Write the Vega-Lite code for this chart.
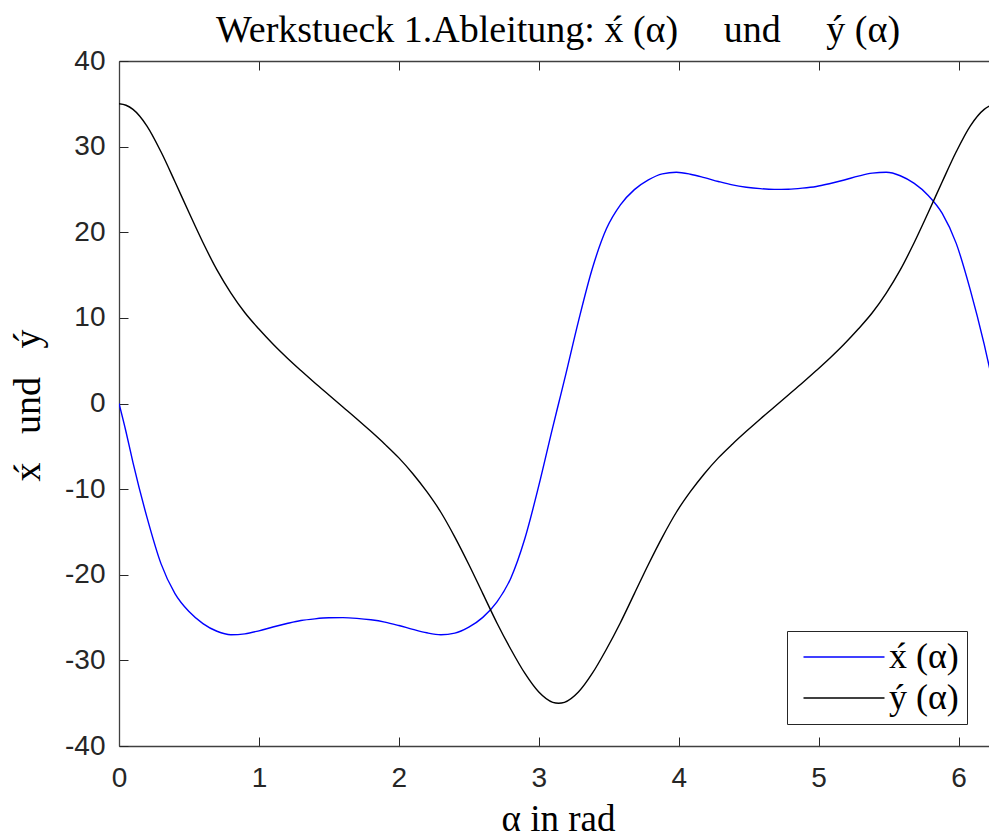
{
  "$schema": "https://vega.github.io/schema/vega-lite/v6.json",
  "autosize": {"type": "none"},
  "padding": {"left": 119, "top": 61, "right": 0, "bottom": 92},
  "width": 870,
  "height": 685,
  "background": "white",
  "config": {"view": {"stroke": null}},
  "title": {
    "text": "Werkstueck 1.Ableitung: x\u0301 (\u03b1)\u2003\u2009und\u2003\u2009y\u0301 (\u03b1)",
    "font": "Liberation Serif", "fontSize": 38, "fontWeight": "normal", "color": "#000000",
    "anchor": "middle", "baseline": "alphabetic", "offset": 15, "dx": 4, "dy": 48
  },
  "data": {"values": [
    {"a":0,"v":0,"s":"x\u0301 (\u03b1)"},{"a":0.05,"v":-3.3,"s":"x\u0301 (\u03b1)"},{"a":0.1,"v":-6.9,"s":"x\u0301 (\u03b1)"},{"a":0.2,"v":-13.3,"s":"x\u0301 (\u03b1)"},{"a":0.3,"v":-18.7,"s":"x\u0301 (\u03b1)"},{"a":0.4,"v":-22.2,"s":"x\u0301 (\u03b1)"},{"a":0.5,"v":-24.3,"s":"x\u0301 (\u03b1)"},{"a":0.6,"v":-25.7,"s":"x\u0301 (\u03b1)"},{"a":0.7,"v":-26.6,"s":"x\u0301 (\u03b1)"},{"a":0.8,"v":-27.0,"s":"x\u0301 (\u03b1)"},{"a":0.9,"v":-26.9,"s":"x\u0301 (\u03b1)"},{"a":1.0,"v":-26.55,"s":"x\u0301 (\u03b1)"},{"a":1.1,"v":-26.1,"s":"x\u0301 (\u03b1)"},{"a":1.2,"v":-25.7,"s":"x\u0301 (\u03b1)"},{"a":1.3,"v":-25.35,"s":"x\u0301 (\u03b1)"},{"a":1.4,"v":-25.15,"s":"x\u0301 (\u03b1)"},{"a":1.5,"v":-25.03,"s":"x\u0301 (\u03b1)"},{"a":1.6,"v":-25.01,"s":"x\u0301 (\u03b1)"},{"a":1.7,"v":-25.09,"s":"x\u0301 (\u03b1)"},{"a":1.8,"v":-25.26,"s":"x\u0301 (\u03b1)"},{"a":1.9,"v":-25.53,"s":"x\u0301 (\u03b1)"},{"a":2.0,"v":-25.93,"s":"x\u0301 (\u03b1)"},{"a":2.1,"v":-26.38,"s":"x\u0301 (\u03b1)"},{"a":2.2,"v":-26.78,"s":"x\u0301 (\u03b1)"},{"a":2.3,"v":-27.0,"s":"x\u0301 (\u03b1)"},{"a":2.4,"v":-26.82,"s":"x\u0301 (\u03b1)"},{"a":2.5,"v":-26.12,"s":"x\u0301 (\u03b1)"},{"a":2.6,"v":-24.98,"s":"x\u0301 (\u03b1)"},{"a":2.7,"v":-23.2,"s":"x\u0301 (\u03b1)"},{"a":2.8,"v":-20.4,"s":"x\u0301 (\u03b1)"},{"a":2.9,"v":-15.8,"s":"x\u0301 (\u03b1)"},{"a":3.0,"v":-9.6,"s":"x\u0301 (\u03b1)"},{"a":3.1,"v":-2.75,"s":"x\u0301 (\u03b1)"},{"a":3.14159,"v":0,"s":"x\u0301 (\u03b1)"},
    {"a":3.18319,"v":2.75,"s":"x\u0301 (\u03b1)"},{"a":3.28319,"v":9.6,"s":"x\u0301 (\u03b1)"},{"a":3.38319,"v":15.8,"s":"x\u0301 (\u03b1)"},{"a":3.48319,"v":20.4,"s":"x\u0301 (\u03b1)"},{"a":3.58319,"v":23.2,"s":"x\u0301 (\u03b1)"},{"a":3.68319,"v":24.98,"s":"x\u0301 (\u03b1)"},{"a":3.78319,"v":26.12,"s":"x\u0301 (\u03b1)"},{"a":3.88319,"v":26.82,"s":"x\u0301 (\u03b1)"},{"a":3.98319,"v":27.0,"s":"x\u0301 (\u03b1)"},{"a":4.08319,"v":26.78,"s":"x\u0301 (\u03b1)"},{"a":4.18319,"v":26.38,"s":"x\u0301 (\u03b1)"},{"a":4.28319,"v":25.93,"s":"x\u0301 (\u03b1)"},{"a":4.38319,"v":25.53,"s":"x\u0301 (\u03b1)"},{"a":4.48319,"v":25.26,"s":"x\u0301 (\u03b1)"},{"a":4.58319,"v":25.09,"s":"x\u0301 (\u03b1)"},{"a":4.68319,"v":25.01,"s":"x\u0301 (\u03b1)"},{"a":4.78319,"v":25.03,"s":"x\u0301 (\u03b1)"},{"a":4.88319,"v":25.15,"s":"x\u0301 (\u03b1)"},{"a":4.98319,"v":25.35,"s":"x\u0301 (\u03b1)"},{"a":5.08319,"v":25.7,"s":"x\u0301 (\u03b1)"},{"a":5.18319,"v":26.1,"s":"x\u0301 (\u03b1)"},{"a":5.28319,"v":26.55,"s":"x\u0301 (\u03b1)"},{"a":5.38319,"v":26.9,"s":"x\u0301 (\u03b1)"},{"a":5.48319,"v":27.0,"s":"x\u0301 (\u03b1)"},{"a":5.58319,"v":26.6,"s":"x\u0301 (\u03b1)"},{"a":5.68319,"v":25.7,"s":"x\u0301 (\u03b1)"},{"a":5.78319,"v":24.3,"s":"x\u0301 (\u03b1)"},{"a":5.88319,"v":22.2,"s":"x\u0301 (\u03b1)"},{"a":5.98319,"v":18.7,"s":"x\u0301 (\u03b1)"},{"a":6.08319,"v":13.3,"s":"x\u0301 (\u03b1)"},{"a":6.18319,"v":6.9,"s":"x\u0301 (\u03b1)"},{"a":6.23319,"v":3.3,"s":"x\u0301 (\u03b1)"},{"a":6.28319,"v":0,"s":"x\u0301 (\u03b1)"},
    {"a":0,"v":35.0,"s":"y\u0301 (\u03b1)"},{"a":0.05,"v":34.83,"s":"y\u0301 (\u03b1)"},{"a":0.1,"v":34.35,"s":"y\u0301 (\u03b1)"},{"a":0.2,"v":32.4,"s":"y\u0301 (\u03b1)"},{"a":0.3,"v":29.4,"s":"y\u0301 (\u03b1)"},{"a":0.4,"v":25.9,"s":"y\u0301 (\u03b1)"},{"a":0.5,"v":22.3,"s":"y\u0301 (\u03b1)"},{"a":0.6,"v":18.8,"s":"y\u0301 (\u03b1)"},{"a":0.7,"v":15.6,"s":"y\u0301 (\u03b1)"},{"a":0.8,"v":12.9,"s":"y\u0301 (\u03b1)"},{"a":0.9,"v":10.6,"s":"y\u0301 (\u03b1)"},{"a":1.0,"v":8.7,"s":"y\u0301 (\u03b1)"},{"a":1.1,"v":6.95,"s":"y\u0301 (\u03b1)"},{"a":1.2,"v":5.35,"s":"y\u0301 (\u03b1)"},{"a":1.3,"v":3.85,"s":"y\u0301 (\u03b1)"},{"a":1.4,"v":2.4,"s":"y\u0301 (\u03b1)"},{"a":1.5,"v":1.0,"s":"y\u0301 (\u03b1)"},{"a":1.6,"v":-0.4,"s":"y\u0301 (\u03b1)"},{"a":1.7,"v":-1.8,"s":"y\u0301 (\u03b1)"},{"a":1.8,"v":-3.25,"s":"y\u0301 (\u03b1)"},{"a":1.9,"v":-4.75,"s":"y\u0301 (\u03b1)"},{"a":2.0,"v":-6.35,"s":"y\u0301 (\u03b1)"},{"a":2.1,"v":-8.2,"s":"y\u0301 (\u03b1)"},{"a":2.2,"v":-10.3,"s":"y\u0301 (\u03b1)"},{"a":2.3,"v":-12.7,"s":"y\u0301 (\u03b1)"},{"a":2.4,"v":-15.6,"s":"y\u0301 (\u03b1)"},{"a":2.5,"v":-18.8,"s":"y\u0301 (\u03b1)"},{"a":2.6,"v":-22.2,"s":"y\u0301 (\u03b1)"},{"a":2.7,"v":-25.6,"s":"y\u0301 (\u03b1)"},{"a":2.8,"v":-28.7,"s":"y\u0301 (\u03b1)"},{"a":2.9,"v":-31.5,"s":"y\u0301 (\u03b1)"},{"a":3.0,"v":-33.7,"s":"y\u0301 (\u03b1)"},{"a":3.1,"v":-34.9,"s":"y\u0301 (\u03b1)"},{"a":3.14159,"v":-35.0,"s":"y\u0301 (\u03b1)"},
    {"a":3.18319,"v":-34.9,"s":"y\u0301 (\u03b1)"},{"a":3.28319,"v":-33.7,"s":"y\u0301 (\u03b1)"},{"a":3.38319,"v":-31.5,"s":"y\u0301 (\u03b1)"},{"a":3.48319,"v":-28.7,"s":"y\u0301 (\u03b1)"},{"a":3.58319,"v":-25.6,"s":"y\u0301 (\u03b1)"},{"a":3.68319,"v":-22.2,"s":"y\u0301 (\u03b1)"},{"a":3.78319,"v":-18.8,"s":"y\u0301 (\u03b1)"},{"a":3.88319,"v":-15.6,"s":"y\u0301 (\u03b1)"},{"a":3.98319,"v":-12.7,"s":"y\u0301 (\u03b1)"},{"a":4.08319,"v":-10.3,"s":"y\u0301 (\u03b1)"},{"a":4.18319,"v":-8.2,"s":"y\u0301 (\u03b1)"},{"a":4.28319,"v":-6.35,"s":"y\u0301 (\u03b1)"},{"a":4.38319,"v":-4.75,"s":"y\u0301 (\u03b1)"},{"a":4.48319,"v":-3.25,"s":"y\u0301 (\u03b1)"},{"a":4.58319,"v":-1.8,"s":"y\u0301 (\u03b1)"},{"a":4.68319,"v":-0.4,"s":"y\u0301 (\u03b1)"},{"a":4.78319,"v":1.0,"s":"y\u0301 (\u03b1)"},{"a":4.88319,"v":2.4,"s":"y\u0301 (\u03b1)"},{"a":4.98319,"v":3.85,"s":"y\u0301 (\u03b1)"},{"a":5.08319,"v":5.35,"s":"y\u0301 (\u03b1)"},{"a":5.18319,"v":6.95,"s":"y\u0301 (\u03b1)"},{"a":5.28319,"v":8.7,"s":"y\u0301 (\u03b1)"},{"a":5.38319,"v":10.6,"s":"y\u0301 (\u03b1)"},{"a":5.48319,"v":12.9,"s":"y\u0301 (\u03b1)"},{"a":5.58319,"v":15.6,"s":"y\u0301 (\u03b1)"},{"a":5.68319,"v":18.8,"s":"y\u0301 (\u03b1)"},{"a":5.78319,"v":22.3,"s":"y\u0301 (\u03b1)"},{"a":5.88319,"v":25.9,"s":"y\u0301 (\u03b1)"},{"a":5.98319,"v":29.4,"s":"y\u0301 (\u03b1)"},{"a":6.08319,"v":32.4,"s":"y\u0301 (\u03b1)"},{"a":6.18319,"v":34.35,"s":"y\u0301 (\u03b1)"},{"a":6.23319,"v":34.83,"s":"y\u0301 (\u03b1)"},{"a":6.28319,"v":35.0,"s":"y\u0301 (\u03b1)"}
  ]},
  "layer": [
    {
      "mark": {"type": "line", "interpolate": "monotone", "strokeWidth": 1.4, "clip": true},
      "encoding": {
        "x": {
          "field": "a", "type": "quantitative",
          "scale": {"domain": [0, 6.2174], "nice": false, "zero": false},
          "axis": {
            "orient": "bottom", "values": [0, 1, 2, 3, 4, 5, 6], "format": "d",
            "labelFont": "Liberation Sans", "labelFontSize": 28, "labelColor": "#262626",
            "labelPadding": 27, "labelFlush": false, "labelOverlap": false,
            "tickSize": -9, "tickColor": "#262626", "tickWidth": 1,
            "domainColor": "#404040", "domainWidth": 1.3, "grid": false,
            "title": "\u03b1 in rad", "titleFont": "Liberation Serif", "titleFontSize": 37,
            "titleFontWeight": "normal", "titleColor": "#000000",
            "titleX": 439, "titleY": 84, "titleBaseline": "alphabetic", "titleAlign": "center"
          }
        },
        "y": {
          "field": "v", "type": "quantitative",
          "scale": {"domain": [-40, 40], "nice": false, "zero": false},
          "axis": {
            "values": [-40, -30, -20, -10, 0, 10, 20, 30, 40],
            "labelExpr": "'' + datum.value",
            "labelFont": "Liberation Sans", "labelFontSize": 28, "labelColor": "#262626",
            "labelPadding": 23, "labelFlush": false, "labelOverlap": false,
            "tickSize": -9, "tickColor": "#262626", "tickWidth": 1,
            "domainColor": "#404040", "domainWidth": 1.3, "grid": false,
            "title": "x\u0301\u2002 und \u2002y\u0301", "titleFont": "Liberation Serif", "titleFontSize": 38,
            "titleFontWeight": "normal", "titleColor": "#000000",
            "titleX": -80, "titleY": 344, "titleAngle": -90, "titleBaseline": "alphabetic", "titleAlign": "center"
          }
        },
        "color": {
          "field": "s", "type": "nominal",
          "scale": {"domain": ["x\u0301 (\u03b1)", "y\u0301 (\u03b1)"], "range": ["#0000ff", "#000000"]},
          "legend": {
            "orient": "none", "legendX": 668, "legendY": 570, "title": null,
            "symbolType": "M-4,0H4", "symbolSize": 410, "symbolStrokeWidth": 1.4,
            "labelFont": "Liberation Serif", "labelFontSize": 36, "labelColor": "#000000",
            "padding": 8, "rowPadding": 5, "strokeColor": "#262626", "fillColor": "white",
            "symbolOffset": 31, "labelOffset": 27
          }
        }
      }
    },
    {
      "mark": {"type": "rule", "opacity": 0},
      "encoding": {
        "x": {
          "field": "a", "type": "quantitative",
          "axis": {
            "orient": "top", "values": [0, 1, 2, 3, 4, 5, 6], "labels": false, "title": null,
            "tickSize": -9, "tickColor": "#262626", "tickWidth": 1,
            "domainColor": "#404040", "domainWidth": 1.3, "grid": false
          }
        }
      }
    }
  ],
  "resolve": {"axis": {"x": "independent"}}
}
